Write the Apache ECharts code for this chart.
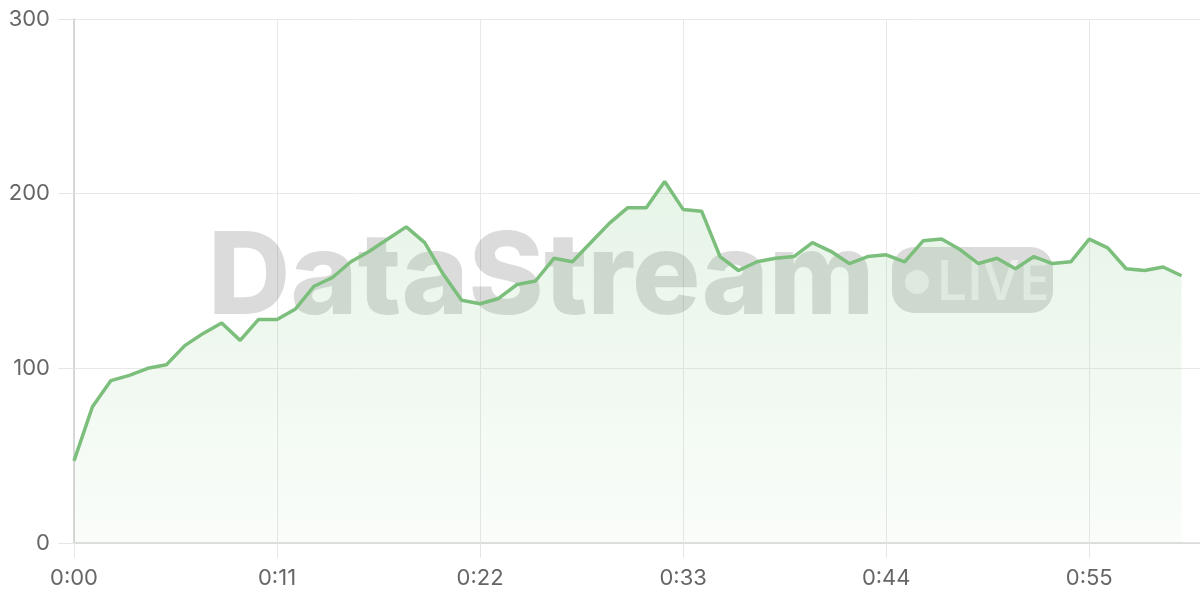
<!DOCTYPE html>
<html>
<head>
<meta charset="utf-8">
<script src="https://cdn.jsdelivr.net/npm/echarts@6/dist/echarts.min.js"></script>
<style>
html,body{margin:0;padding:0;background:#fff;}
#chart{width:1200px;height:600px;}
</style>
</head>
<body>
<div id="chart"></div>
<script>
// Time categories 0:00 .. 1:01 (last slot empty, axis extends one step past data)
const categories = [];
for (let s = 0; s <= 61; s++) {
  categories.push(Math.floor(s / 60) + ':' + String(s % 60).padStart(2, '0'));
}
const values = [
  47, 78, 93, 96, 100, 102, 113, 120, 126, 116,
  128, 128, 134, 147, 152, 161, 167, 174, 181, 172,
  154, 139, 137, 140, 148, 150, 163, 161, 172, 183,
  192, 192, 207, 191, 190, 164, 156, 161, 163, 164,
  172, 167, 160, 164, 165, 161, 173, 174, 168, 160,
  163, 157, 164, 160, 161, 174, 169, 157, 156, 158,
  153
];
const yTicks = [0, 100, 200, 300];

const chart = echarts.init(document.getElementById('chart'));
chart.setOption({
  animation: false,
  grid: { left: 74, right: 0, top: 19, bottom: 57, containLabel: false },
  xAxis: {
    type: 'category',
    data: categories,
    boundaryGap: false,
    axisLine: { lineStyle: { color: '#d4d8d4', width: 1.5 } },
    axisTick: { show: true, length: 15, interval: 10, lineStyle: { color: '#e6e6e6' } },
    axisLabel: { interval: 10, margin: 24, color: '#666', fontSize: 22, fontFamily: 'Inter' },
    splitLine: { show: true, interval: 10, lineStyle: { color: '#e8e8e8' } }
  },
  yAxis: {
    type: 'value',
    min: yTicks[0],
    max: yTicks[yTicks.length - 1],
    interval: 100,
    axisLine: { show: true, lineStyle: { color: '#cccccc', width: 1.5 } },
    axisTick: { show: true, length: 16, lineStyle: { color: '#e6e6e6' } },
    axisLabel: { margin: 24, color: '#666', fontSize: 22, fontFamily: 'Inter' },
    splitLine: { show: true, lineStyle: { color: '#e8e8e8' } }
  },
  graphic: [
    {
      type: 'text', z: 1, silent: true,
      style: {
        text: 'DataStream', x: 208, y: 223,
        font: '800 114px Inter',
        fill: 'rgba(0,0,0,0.14)',
        textAlign: 'left', textVerticalAlign: 'top'
      }
    },
    {
      type: 'rect', z: 1, silent: true,
      shape: { x: 892, y: 247, width: 161, height: 66, r: 22 },
      style: { fill: 'rgba(0,0,0,0.14)' }
    },
    {
      type: 'circle', z: 1, silent: true,
      shape: { cx: 917, cy: 282, r: 12 },
      style: { fill: 'rgba(255,255,255,0.55)' }
    },
    {
      type: 'text', z: 1, silent: true,
      style: {
        text: 'LIVE', x: 936, y: 284,
        font: '600 56px "Open Sans"',
        fill: 'rgba(255,255,255,0.55)',
        textAlign: 'left', textVerticalAlign: 'middle'
      }
    }
  ],
  series: [{
    type: 'line',
    data: values,
    symbol: 'none',
    smooth: false,
    z: 3,
    lineStyle: { color: '#7cbf7c', width: 3.5 },
    areaStyle: {
      color: new echarts.graphic.LinearGradient(0, 0, 0, 1, [
        { offset: 0, color: 'rgba(129,199,132,0.28)' },
        { offset: 1, color: 'rgba(129,199,132,0.06)' }
      ])
    }
  }]
});
</script>
</body>
</html>
